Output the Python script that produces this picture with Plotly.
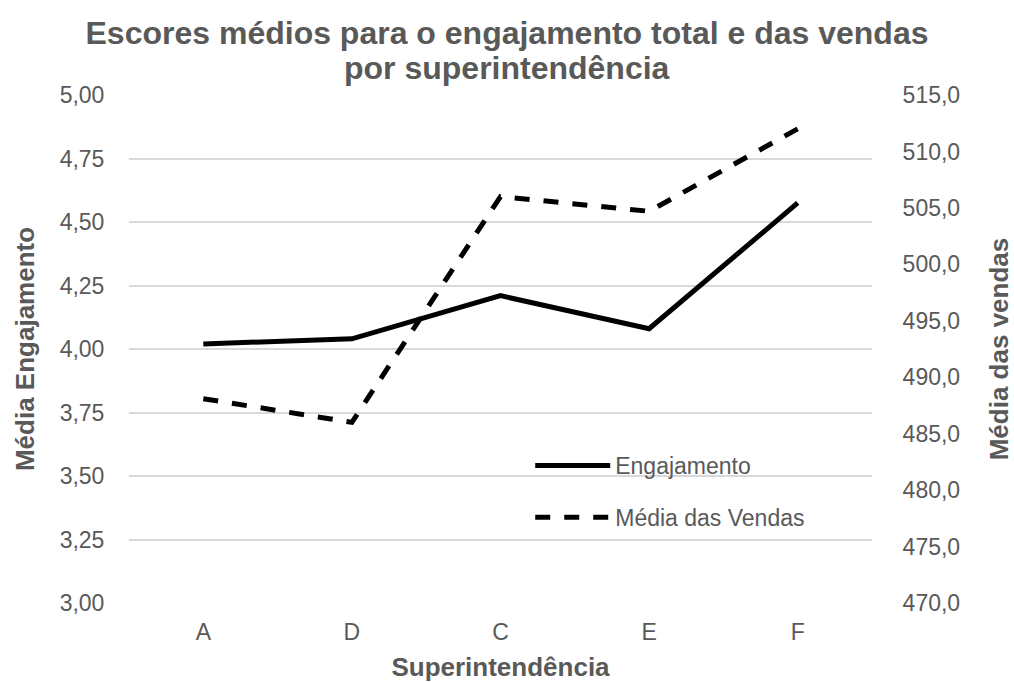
import plotly.graph_objects as go

categories = ["A", "D", "C", "E", "F"]
engajamento = [4.02, 4.04, 4.21, 4.08, 4.575]
vendas = [488.1, 486.0, 506.0, 504.7, 512.0]

title_line1 = "Escores médios para o engajamento total e das vendas"
title_line2 = "por superintendência"

gray = "#595959"
font_family = "Liberation Sans, Arial, sans-serif"

fig = go.Figure()
fig.add_trace(go.Scatter(
    x=categories, y=engajamento, name="Engajamento", mode="lines",
    line=dict(color="black", width=5), legendgroup="g1", yaxis="y"))
fig.add_trace(go.Scatter(
    x=categories, y=vendas, name="Média das Vendas", mode="lines",
    line=dict(color="black", width=5, dash="15px,14px"), legendgroup="g2", yaxis="y2"))

fig.update_layout(
    width=1014, height=682,
    paper_bgcolor="white", plot_bgcolor="white",
    separators=",.",
    font=dict(family=font_family, color=gray, size=23),
    margin=dict(l=129, r=142, t=95, b=79, autoexpand=False),
    title=dict(
        text="<b>" + title_line1 + "</b>",
        x=0.5, xanchor="center", xref="container", yref="container",
        y=1 - 33 / 682, yanchor="middle",
        font=dict(size=32, color=gray, family=font_family)),
    xaxis=dict(
        type="category", range=[-0.5, 4.5],
        title=dict(text="<b>Superintendência</b>", font=dict(size=26, color=gray), standoff=16),
        showgrid=False, showline=False, ticks="outside", ticklen=8,
        tickcolor="rgba(0,0,0,0)", tickfont=dict(size=23, color=gray)),
    yaxis=dict(
        title=dict(text="<b>Média Engajamento</b>", font=dict(size=26, color=gray), standoff=17),
        range=[3.0, 5.0], tick0=3.0, dtick=0.25, tickformat=".2f",
        showgrid=True, gridcolor="#d9d9d9", gridwidth=1.5, zeroline=False,
        showline=False, ticks="outside", ticklen=19, tickcolor="rgba(0,0,0,0)",
        tickfont=dict(size=23, color=gray)),
    yaxis2=dict(
        title=dict(text="<b>Média das vendas</b>", font=dict(size=26, color=gray), standoff=45),
        overlaying="y", side="right",
        range=[470, 515], tick0=470, dtick=5, tickformat=".1f",
        showgrid=False, zeroline=False, showline=False,
        ticks="outside", ticklen=25, tickcolor="rgba(0,0,0,0)",
        tickfont=dict(size=23, color=gray)),
    showlegend=True,
    legend=dict(
        x=0.54, y=0.313, xanchor="left", yanchor="top",
        bgcolor="rgba(0,0,0,0)", font=dict(size=23, color=gray),
        traceorder="grouped", tracegroupgap=19, itemwidth=75),
    annotations=[dict(
        text="<b>" + title_line2 + "</b>", showarrow=False,
        xref="paper", yref="paper", x=(507 - 129) / 743, y=1 + (95 - 68) / 508,
        xanchor="center", yanchor="middle",
        font=dict(size=32, color=gray, family=font_family))],
)

fig.write_html("out.html", config={"displayModeBar": False},
               post_script="document.body.style.margin='0';")
